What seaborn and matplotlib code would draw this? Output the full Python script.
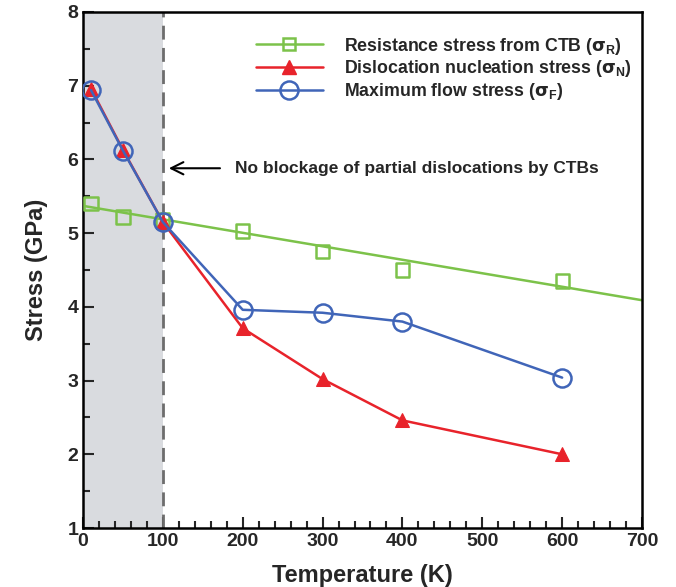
import numpy as np
import pandas as pd
import matplotlib
matplotlib.use("Agg")
import matplotlib.pyplot as plt
import seaborn as sns
from matplotlib.lines import Line2D
from matplotlib.ticker import MultipleLocator

temps = [10, 50, 100, 200, 300, 400, 600]
sigma_R = [5.40, 5.22, 5.18, 5.03, 4.75, 4.50, 4.35]
sigma_N = [6.96, 6.13, 5.15, 3.71, 3.02, 2.46, 2.00]
sigma_F = [6.94, 6.12, 5.15, 3.96, 3.92, 3.80, 3.04]
fit_x = [0, 700]
fit_R = [5.37, 4.09]

labels = [r"Resistance stress from CTB ($\sigma_\mathbf{R}$)",
          r"Dislocation nucleation stress ($\sigma_\mathbf{N}$)",
          r"Maximum flow stress ($\sigma_\mathbf{F}$)"]
c_green = "#7cc24a"
c_red = "#e8232b"
c_blue = "#4065b8"

sns.set_theme(style="ticks")
plt.rcParams["font.family"] = ["Liberation Sans", "DejaVu Sans"]
plt.rcParams["font.weight"] = "bold"
plt.rcParams["mathtext.fontset"] = "custom"
plt.rcParams["mathtext.bf"] = "Liberation Sans:bold"
plt.rcParams["mathtext.rm"] = "DejaVu Sans"
plt.rcParams["mathtext.it"] = "DejaVu Sans"

df = pd.DataFrame({"T": temps, "R": sigma_R, "N": sigma_N, "F": sigma_F})
dfit = pd.DataFrame({"T": fit_x, "R": fit_R})

fig = plt.figure(figsize=(6.76, 5.87), dpi=100)
ax = fig.add_axes([0.1228, 0.1005, 0.8269, 0.8791])

ax.axvspan(0, 100, color="#d9dbdf", zorder=0, lw=0)
ax.axvline(100, color="#6d6d6d", ls=(0, (5, 3)), lw=2, zorder=1)

sns.lineplot(data=dfit, x="T", y="R", color=c_green, lw=1.8, ax=ax, zorder=2)
sns.scatterplot(data=df, x="T", y="R", marker="s", s=90, facecolor="none",
                edgecolor=c_green, linewidth=1.8, ax=ax, zorder=3)
sns.lineplot(data=df, x="T", y="N", color=c_red, lw=1.8, marker="^",
             markersize=10, markeredgecolor=c_red, ax=ax, zorder=4)
sns.lineplot(data=df, x="T", y="F", color=c_blue, lw=1.8, marker="o",
             markersize=13, markerfacecolor="none", markeredgecolor=c_blue,
             markeredgewidth=1.8, ax=ax, zorder=5)

ax.set_xlim(0, 700)
ax.set_ylim(1, 8)
ax.xaxis.set_major_locator(MultipleLocator(100))
ax.xaxis.set_minor_locator(MultipleLocator(20))
ax.yaxis.set_major_locator(MultipleLocator(1))
ax.yaxis.set_minor_locator(MultipleLocator(0.5))
ax.tick_params(which="both", direction="in", top=False, right=False, width=1.5,
               labelsize=14)
ax.tick_params(which="major", length=8)
ax.tick_params(which="minor", length=5)
for lab in ax.get_xticklabels() + ax.get_yticklabels():
    lab.set_fontweight("bold")
for sp in ax.spines.values():
    sp.set_linewidth(1.8)
    sp.set_color("black")

ax.set_xlabel("Temperature (K)", fontsize=17, fontweight="bold", labelpad=10)
ax.set_ylabel("Stress (GPa)", fontsize=17, fontweight="bold", labelpad=14)

ax.annotate("", xy=(104, 5.88), xytext=(175, 5.88),
            arrowprops=dict(arrowstyle="->", color="black", lw=1.5,
                            mutation_scale=22))
ax.text(190, 5.88, "No blockage of partial dislocations by CTBs",
        fontsize=12.5, fontweight="bold", va="center", ha="left")

handles = [
    Line2D([], [], color=c_green, lw=1.8, marker="s", markersize=9,
           markerfacecolor="none", markeredgewidth=1.8),
    Line2D([], [], color=c_red, lw=1.8, marker="^", markersize=10),
    Line2D([], [], color=c_blue, lw=1.8, marker="o", markersize=13,
           markerfacecolor="none", markeredgewidth=1.8),
]
leg = ax.legend(handles, labels, loc="upper left", bbox_to_anchor=(0.28, 0.985),
                frameon=False, fontsize=12.8, handlelength=3.8, labelspacing=0.1,
                handletextpad=1.2)
for t in leg.get_texts():
    t.set_fontweight("bold")

fig.savefig("out.png", dpi=100)
